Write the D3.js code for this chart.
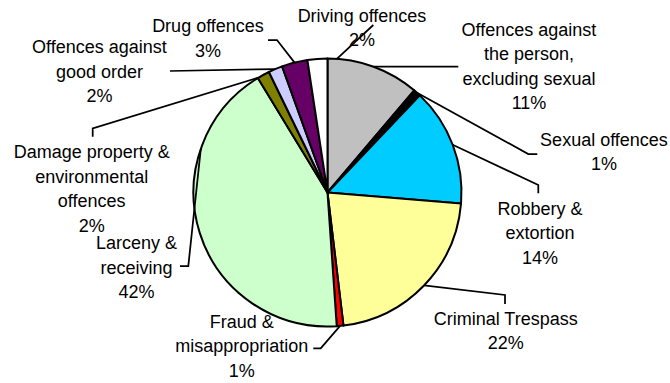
<!DOCTYPE html>
<html>
<head>
<meta charset="utf-8">
<script src="https://cdn.jsdelivr.net/npm/d3@7"></script>
<style>
  html, body { margin: 0; padding: 0; background: #fff; }
  svg { display: block; }
  text { font-family: "Liberation Sans", Arial, sans-serif; font-size: 18px; fill: #000; }
</style>
</head>
<body>
<svg id="chart" width="670" height="383"></svg>
<script>
// Offence categories, clockwise from 12 o'clock ("\n" marks a line break in the label)
const categories = [
  "Offences against\nthe person,\nexcluding sexual",
  "Sexual offences",
  "Robbery &\nextortion",
  "Criminal Trespass",
  "Fraud &\nmisappropriation",
  "Larceny &\nreceiving",
  "Damage property &\nenvironmental\noffences",
  "Offences against\ngood order",
  "Drug offences",
  "Driving offences"
];

// Share of all offences, in percent
const shares = [11.2, 0.9, 14.2, 21.8, 0.8, 42.4, 1.5, 1.7, 3.1, 2.4];

const colors = [
  "#C0C0C0", "#000000", "#00CCFF", "#FFFF99", "#FF0000",
  "#CCFFCC", "#808000", "#CCCCFF", "#660066", "#FFFFFF"
];

// Label placement: text centre x, first baseline y, leader points from the label
// towards the pie, and an optional attachment angle (degrees) on the rim
const labelLayout = [
  { x: 529,   y: 35.7,  leader: [[458.3, 66.7]] },
  { x: 604,   y: 146,   leader: [[537.3, 154], [528.3, 154]] },
  { x: 540,   y: 215,   leader: [[538.3, 193.3], [538.3, 185]] },
  { x: 505.7, y: 325,   leader: [[505, 304], [505, 295]] },
  { x: 241.7, y: 328,   leader: [[313.3, 348.3], [320.7, 348.3]] },
  { x: 136.5, y: 249.3, leader: [[180, 266], [188.3, 266]], attachDeg: 289 },
  { x: 91.7,  y: 158.3, leader: [[92.7, 136.7], [92.7, 128.3]], attachDeg: 329 },
  { x: 99.5,  y: 53.3,  leader: [[170, 71]] },
  { x: 208,   y: 32.3,  leader: [[268, 40], [277, 40]] },
  { x: 362,   y: 21.7,  leader: [[373.3, 25]], attachDeg: 4 }
];

const cx = 327.5, cy = 192.5, radius = 134, lineHeight = 24.4;

const data = categories.map((c, i) => ({ name: c, share: shares[i], color: colors[i], layout: labelLayout[i] }));
const total = d3.sum(shares);

const svg = d3.select("#chart");
const g = svg.append("g").attr("transform", `translate(${cx},${cy})`);

const pie = d3.pie().sort(null).value(d => d.share).startAngle(0).endAngle(2 * Math.PI);
const arc = d3.arc().innerRadius(0).outerRadius(radius);
const arcs = pie(data);

// Slices
g.selectAll("path.slice")
  .data(arcs)
  .join("path")
  .attr("class", "slice")
  .attr("d", arc)
  .attr("fill", d => d.data.color)
  .attr("stroke", "#000")
  .attr("stroke-width", 2)
  .attr("stroke-linejoin", "round");

// Labels: name lines followed by the rounded percentage
const labels = svg.append("g");
arcs.forEach(a => {
  const L = a.data.layout;
  const lines = a.data.name.split("\n").concat([Math.round(a.data.share / total * 100) + "%"]);
  const t = labels.append("text").attr("text-anchor", "middle");
  lines.forEach((ln, k) => {
    t.append("tspan").attr("x", L.x).attr("y", L.y + k * lineHeight).text(ln);
  });
});

// Leader lines from each label to the rim of its slice
const line = d3.line();
arcs.forEach(a => {
  const L = a.data.layout;
  const ang = L.attachDeg != null ? L.attachDeg * Math.PI / 180 : (a.startAngle + a.endAngle) / 2;
  const rim = [cx + radius * Math.sin(ang), cy - radius * Math.cos(ang)];
  svg.append("path")
    .attr("d", line(L.leader.concat([rim])))
    .attr("fill", "none")
    .attr("stroke", "#000")
    .attr("stroke-width", 1.75);
});
</script>
</body>
</html>
